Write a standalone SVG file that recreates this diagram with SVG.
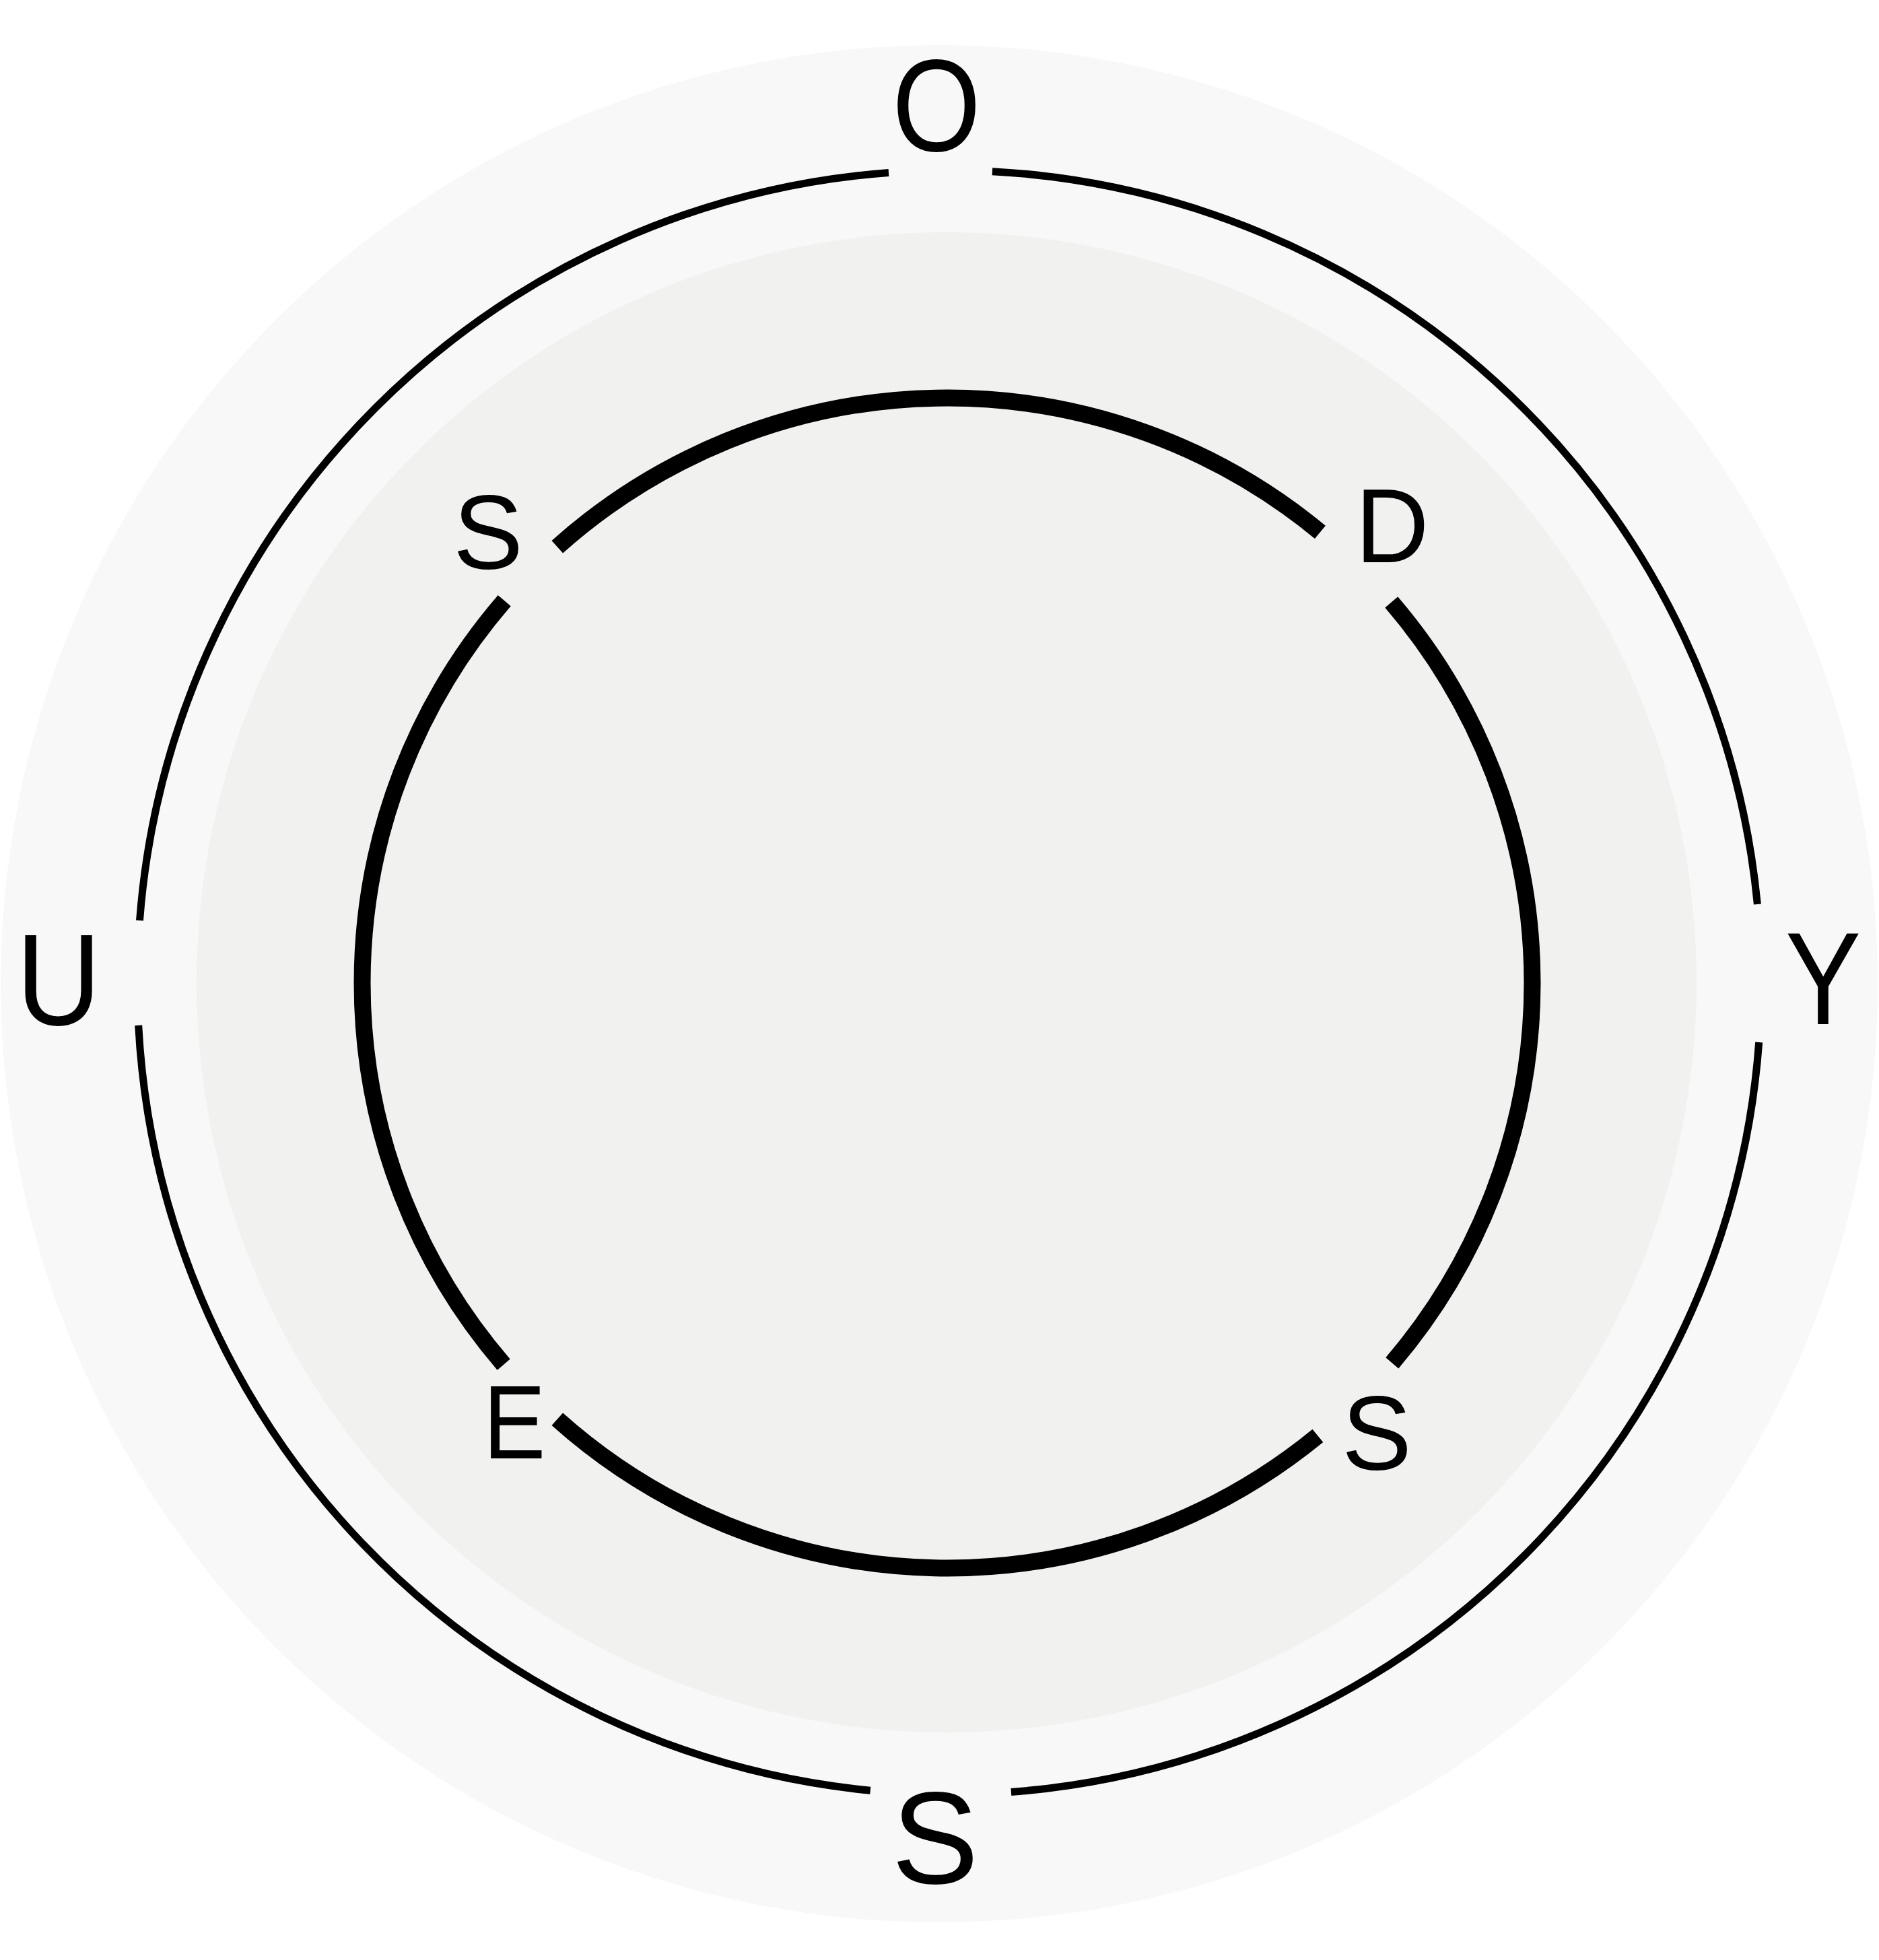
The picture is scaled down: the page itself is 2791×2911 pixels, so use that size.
<svg xmlns="http://www.w3.org/2000/svg" width="2791" height="2911" viewBox="0 0 2791 2911">
<style>
.outer-arc{fill:none;stroke:#000;stroke-width:11;stroke-linecap:butt}
.inner-arc{fill:none;stroke:#000;stroke-width:25;stroke-linecap:butt}
.lbl-out{font-family:"Liberation Sans",Arial,sans-serif;font-size:194px;fill:#000;text-anchor:middle}
.lbl-in{font-family:"Liberation Sans",Arial,sans-serif;font-size:156px;fill:#000;text-anchor:middle}
</style>
<rect width="2791" height="2911" fill="#ffffff"/>
<g id="backgrounds">
<circle cx="1395" cy="1461" r="1394" fill="#f8f8f8"/>
<circle cx="1406" cy="1459" r="1114" fill="#f1f1f0"/>
</g>
<g id="connectors">
<path class="outer-arc" d="M1473.9,254.7 A1206,1206 0 0 1 2610.4,1343"/>
<path class="outer-arc" d="M2612.7,1548 A1206,1206 0 0 1 1501.9,2661.5"/>
<path class="outer-arc" d="M1292.8,2659.3 A1206,1206 0 0 1 205.7,1522.9"/>
<path class="outer-arc" d="M207.5,1367.1 A1206,1206 0 0 1 1320,256.4"/>
<path class="inner-arc" d="M827.8,812.2 A869,869 0 0 1 1960.9,790.4"/>
<path class="inner-arc" d="M2066.8,894.4 A869,869 0 0 1 2067.8,2024.3"/>
<path class="inner-arc" d="M1957.4,2132.4 A869,869 0 0 1 827.8,2107.8"/>
<path class="inner-arc" d="M748.2,2026.7 A869,869 0 0 1 749.2,892.2"/>
</g>
<g id="node-O"><text class="lbl-out" transform="translate(1391,224) scale(0.873,1)">O</text></g>
<g id="node-Y"><text class="lbl-out" transform="translate(2708,1521) scale(0.87,1)">Y</text></g>
<g id="node-S-bottom"><text class="lbl-out" x="1389" y="2797">S</text></g>
<g id="node-U"><text class="lbl-out" transform="translate(87,1522) scale(0.9,1)">U</text></g>
<g id="node-S-topleft"><text class="lbl-in" x="725" y="844">S</text></g>
<g id="node-D"><text class="lbl-in" transform="translate(2068,835) scale(0.97,1)">D</text></g>
<g id="node-S-bottomright"><text class="lbl-in" x="2045" y="2182">S</text></g>
<g id="node-E"><text class="lbl-in" transform="translate(764,2166) scale(0.89,1)">E</text></g>
</svg>
